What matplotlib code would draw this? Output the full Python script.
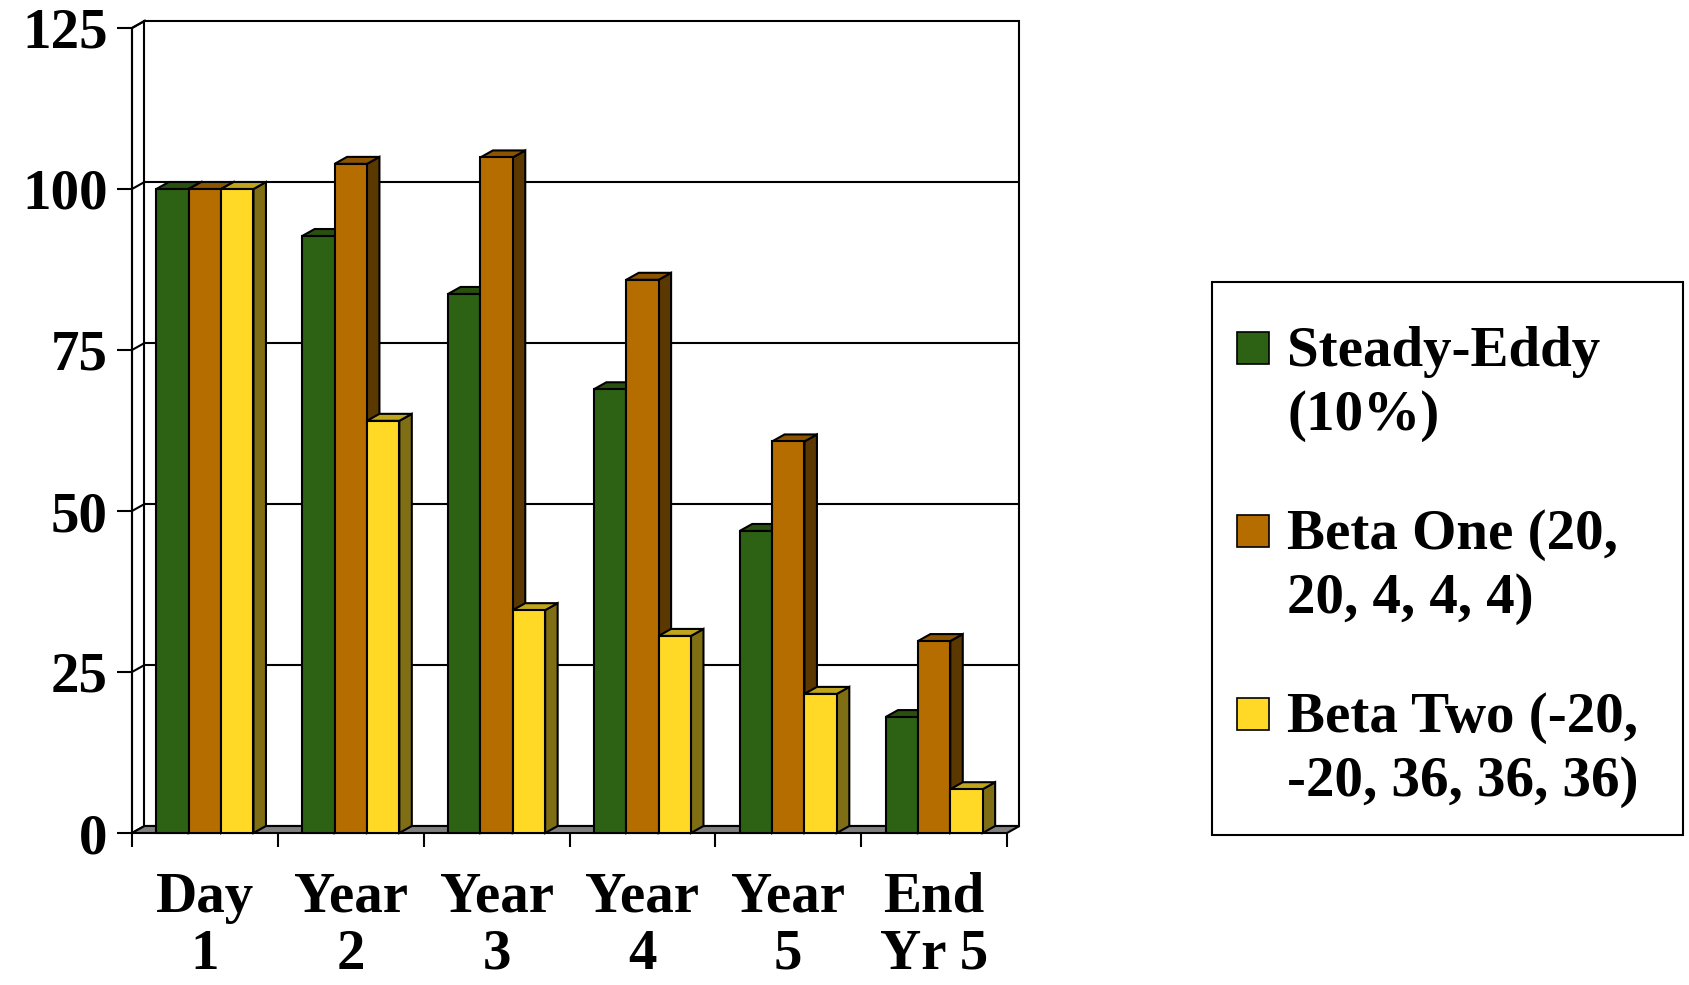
import matplotlib
matplotlib.use('Agg')
import matplotlib.pyplot as plt
from matplotlib.patches import Polygon, Rectangle

# данные
categories = ['Day\n1', 'Year\n2', 'Year\n3', 'Year\n4', 'Year\n5', 'End\nYr 5']
series_names = ['Steady-Eddy\n(10%)', 'Beta One (20,\n20, 4, 4, 4)', 'Beta Two (-20,\n-20, 36, 36, 36)']
steady = [100, 92.7, 83.7, 68.9, 46.9, 18.0]
beta_one = [100, 103.9, 104.9, 85.9, 60.8, 29.8]
beta_two = [100, 64.0, 34.6, 30.6, 21.6, 6.8]
y_ticks = [0, 25, 50, 75, 100, 125]

series = [steady, beta_one, beta_two]
front = ['#2D6114', '#B56D00', '#FFD926']
top = ['#2A5010', '#8C5400', '#BFA51E']
side = ['#1A3A0A', '#5A3800', '#7F6E14']

W, H = 1689, 985
fig = plt.figure(figsize=(W / 100, H / 100), dpi=100)
plt.rcParams['font.family'] = ['Liberation Serif', 'DejaVu Serif']
FS = 41

n = len(categories)
ymax = y_ticks[-1]
dx = 0.0857   # глубина по x (в категориях)
dy = 1.087    # глубина по y (в единицах)

# оси: x=0 -> 132px, x=6 -> 1007px; y=0 -> 833px, 6.44px на единицу
px_x = (1007 - 132) / n
px_y = 6.44
left_px, bottom_px = 132, 833
ax = fig.add_axes([left_px / W, (H - bottom_px) / H,
                   (n + dx) * px_x / W, (ymax + dy) * px_y / H])
ax.set_xlim(0, n + dx)
ax.set_ylim(0, ymax + dy)
for s in ax.spines.values():
    s.set_visible(False)

lw = 1.5
# левая стенка
ax.add_patch(Polygon([(0, 0), (dx, dy), (dx, ymax + dy), (0, ymax)], closed=True,
                     facecolor='white', edgecolor='black', lw=lw, zorder=1, clip_on=False))
# задняя стенка
ax.add_patch(Rectangle((dx, dy), n, ymax, facecolor='white', edgecolor='black',
                       lw=lw, zorder=1, clip_on=False))
# сетка
for v in y_ticks[1:-1]:
    ax.plot([0, dx, n + dx], [v, v + dy, v + dy], color='black', lw=lw, zorder=1.5,
            clip_on=False, solid_capstyle='butt')
ax.plot([0, dx], [ymax, ymax + dy], color='black', lw=lw, zorder=1.5, clip_on=False)
# пол
ax.add_patch(Polygon([(0, 0), (n, 0), (n + dx, dy), (dx, dy)], closed=True,
                     facecolor='#808080', edgecolor='black', lw=lw, zorder=2, clip_on=False))

# столбцы
w = 0.222
for j, vals in enumerate(series):
    xs = [i + 0.5 - 1.5 * w + j * w for i in range(n)]
    for xl, h in zip(xs, vals):
        ax.add_patch(Polygon([(xl + w, 0), (xl + w + dx, dy), (xl + w + dx, h + dy), (xl + w, h)],
                             closed=True, facecolor=side[j], edgecolor='black', lw=lw,
                             zorder=3 + j * 0.1, clip_on=False))
        ax.add_patch(Polygon([(xl, h), (xl + w, h), (xl + w + dx, h + dy), (xl + dx, h + dy)],
                             closed=True, facecolor=top[j], edgecolor='black', lw=lw,
                             zorder=3 + j * 0.1, clip_on=False))
    ax.bar(xs, vals, width=w, align='edge', color=front[j], edgecolor='black',
           linewidth=lw, zorder=3.05 + j * 0.1, clip_on=False)

# оси и подписи
ax.plot([0, 0], [0, ymax], color='black', lw=lw, zorder=1.6, clip_on=False)
ax.set_yticks(y_ticks)
ax.set_yticklabels([str(v) for v in y_ticks], fontsize=FS, fontweight='bold')
ax.tick_params(axis='y', direction='out', length=11, width=lw, pad=6.5)
ax.set_xticks(range(n + 1))
ax.set_xticklabels([])
ax.tick_params(axis='x', which='major', direction='out', length=10, width=lw)
ax.set_xticks([i + 0.5 for i in range(n)], minor=True)
ax.set_xticklabels(categories, minor=True, fontsize=FS, fontweight='bold', linespacing=1.12)
ax.tick_params(axis='x', which='minor', length=0, pad=28)

# легенда
def fx(x):
    return x / W


def fy(y):
    return 1 - y / H


fig.add_artist(Rectangle((fx(1212), fy(835)), fx(1683) - fx(1212), fy(282) - fy(835),
                         transform=fig.transFigure, facecolor='white', edgecolor='black',
                         lw=lw))
sq_tops = [332, 515, 698]
baselines = [366, 549, 732]
for j, name in enumerate(series_names):
    fig.add_artist(Rectangle((fx(1237), fy(sq_tops[j] + 32)), fx(32), 32 / H,
                             transform=fig.transFigure, facecolor=front[j],
                             edgecolor='black', lw=1.2))
    for k, line in enumerate(name.split('\n')):
        fig.text(fx(1287), fy(baselines[j] + 64 * k), line, fontsize=FS,
                 fontweight='bold', va='baseline', ha='left')

fig.savefig('out.png', dpi=100)
